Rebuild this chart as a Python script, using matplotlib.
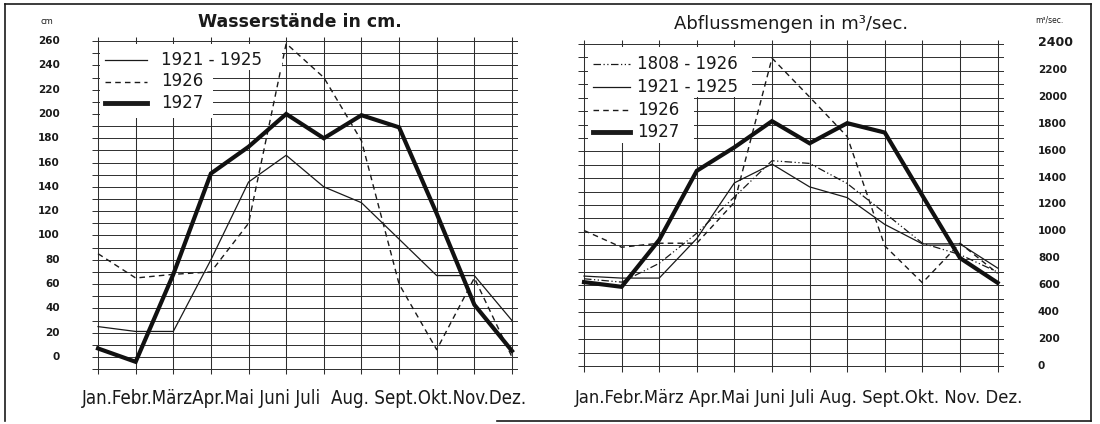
import matplotlib
matplotlib.use("Agg")
import matplotlib.pyplot as plt
from matplotlib.lines import Line2D
from matplotlib.patches import Rectangle
import numpy as np

months = ['Jan.', 'Febr.', 'März', 'Apr.', 'Mai', 'Juni', 'Juli', 'Aug.', 'Sept.', 'Okt.', 'Nov.', 'Dez.']

# Wasserstände in cm
ws_1921_25 = [25, 21, 21, 80, 144, 166, 140, 127, 97, 67, 67, 30]
ws_1926 = [85, 65, 68, 70, 110, 258, 230, 178, 60, 6, 65, 0]
ws_1927 = [7, -4, 68, 151, 173, 200, 180, 199, 189, 118, 43, 5]
ws_ticks = list(range(0, 261, 20))

# Abflussmengen in m3/sec
q_1808_1926 = [650, 625, 765, 990, 1260, 1530, 1510, 1360, 1140, 915, 830, 700]
q_1921_25 = [670, 655, 655, 950, 1365, 1505, 1335, 1255, 1055, 910, 910, 730]
q_1926 = [1010, 885, 915, 915, 1220, 2295, 2005, 1710, 895, 620, 915, 690]
q_1927 = [625, 590, 940, 1455, 1630, 1825, 1660, 1810, 1740, 1270, 805, 620]
q_ticks = list(range(0, 2401, 200))

W, H = 1100, 424
fig = plt.figure(figsize=(W / 100, H / 100), dpi=100)
fig.patch.set_facecolor('white')


def fx(x):
    return x / W


def fy(y):
    return 1 - y / H


INK = '#1a1a1a'
GRID = '#2e2e2e'
x = np.arange(12)

# left axes: Jan at 98px, Dez at 512px; 0 at 357px, 260 at 41px
axl = fig.add_axes([fx(92), fy(376.4), (518 - 92) / W, (376.4 - 33.8) / H])
axl.set_xlim(-0.16, 11.16)
axl.set_ylim(-16, 266)
axl.axis('off')
axl.hlines(np.arange(-10, 261, 10), -0.16, 11.16, color=GRID, lw=0.7)
axl.vlines(x, -14, 263, color=GRID, lw=0.75)
axl.plot(x, ws_1921_25, color=INK, lw=0.9)
axl.plot(x, ws_1926, color=INK, lw=1.0, dashes=(4, 3))
axl.plot(x, ws_1927, color='#111111', lw=3.0, solid_joinstyle='miter')

# right axes: Jan at 584px; 0 at 366px, 2400 at 43px
axr = fig.add_axes([fx(578), fy(374), (1003.6 - 578) / W, (374 - 33.3) / H])
axr.set_xlim(-0.16, 11.16)
axr.set_ylim(-60, 2480)
axr.axis('off')
axr.hlines(np.arange(0, 2401, 100), -0.16, 11.16, color=GRID, lw=0.7)
axr.vlines(x, -45, 2430, color=GRID, lw=0.75)
axr.plot(x, q_1808_1926, color=INK, lw=0.9, dashes=(6, 2, 1, 2, 1, 2))
axr.plot(x, q_1921_25, color=INK, lw=0.9)
axr.plot(x, q_1926, color=INK, lw=1.0, dashes=(4, 3))
axr.plot(x, q_1927, color='#111111', lw=3.0, solid_joinstyle='miter')

# y labels
for v in ws_ticks:
    fig.text(fx(60), fy(357 - v * 316 / 260), str(v), ha='right', va='center',
             fontsize=7.5, fontweight='bold', color=INK)
fig.text(fx(47), fy(21), 'cm', ha='center', va='center', fontsize=6, color=INK)
for v in q_ticks:
    fig.text(fx(1038), fy(366 - v * 323 / 2400), str(v), ha='left', va='center',
             fontsize=9 if v == 2400 else 7.5, fontweight='bold', color=INK)
fig.text(fx(1049), fy(20), 'm³/sec.', ha='center', va='center', fontsize=5.5, color=INK)

# titles
fig.text(fx(300), fy(22), 'Wasserstände in cm.', ha='center', va='center',
         fontsize=12.5, fontweight='bold', color=INK)
fig.text(fx(791), fy(24), 'Abflussmengen in m³/sec.', ha='center', va='center',
         fontsize=13, color=INK)

# legend boxes (white, covering the grid)
boxes = [(100, 44, 282, 70), (100, 70, 213, 118),
         (588, 47, 752, 97), (588, 97, 694, 143)]
for (x0, y0, x1, y1) in boxes:
    fig.add_artist(Rectangle((fx(x0), fy(y1)), (x1 - x0) / W, (y1 - y0) / H,
                             transform=fig.transFigure, facecolor='white',
                             edgecolor='none', zorder=1))

leg_l = [('1921 - 1925', dict(lw=0.9)), ('1926', dict(lw=1.0, dashes=(4, 3))),
         ('1927', dict(lw=3.5))]
for i, (lab, kw) in enumerate(leg_l):
    yy = 60 + i * 21.5
    fig.add_artist(Line2D([fx(105), fx(147)], [fy(yy), fy(yy)], color=INK,
                          transform=fig.transFigure, zorder=2, **kw))
    fig.text(fx(161), fy(yy), lab, ha='left', va='center', fontsize=12,
             color=INK, zorder=3)

leg_r = [('1808 - 1926', dict(lw=0.9, dashes=(6, 2, 1, 2, 1, 2))),
         ('1921 - 1925', dict(lw=0.9)), ('1926', dict(lw=1.0, dashes=(4, 3))),
         ('1927', dict(lw=3.5))]
for i, (lab, kw) in enumerate(leg_r):
    yy = 64 + i * 22.8
    fig.add_artist(Line2D([fx(593), fx(630)], [fy(yy), fy(yy)], color=INK,
                          transform=fig.transFigure, zorder=2, **kw))
    fig.text(fx(637), fy(yy), lab, ha='left', va='center', fontsize=12,
             color=INK, zorder=3)

# month labels as one running line under each chart, fitted to its width
fig.canvas.draw()
rend = fig.canvas.get_renderer()
for left, right, gap in [(82, 528, ['', '', '', '', ' ', ' ', '  ', ' ', '', '', '', '']),
                         (575, 1022, ['', '', ' ', '', ' ', ' ', ' ', ' ', '', ' ', ' ', ''])]:
    s = ''.join(m + g for m, g in zip(months, gap)).rstrip()
    t = fig.text(fx(left), fy(398), s, ha='left', va='center', fontsize=12,
                 color=INK, fontstretch='condensed')
    w = t.get_window_extent(rend).width
    t.set_fontsize(12 * (right - left) / w)

# outer frame
for xs, ys in [([5, 5], [4, 421]), ([5, 1091], [4, 4]), ([1091, 1091], [4, 421]),
               ([497, 1091], [421, 421])]:
    fig.add_artist(Line2D([fx(v) for v in xs], [fy(v) for v in ys], color=INK,
                          lw=1.2, transform=fig.transFigure))

fig.savefig('out.png', dpi=100)
